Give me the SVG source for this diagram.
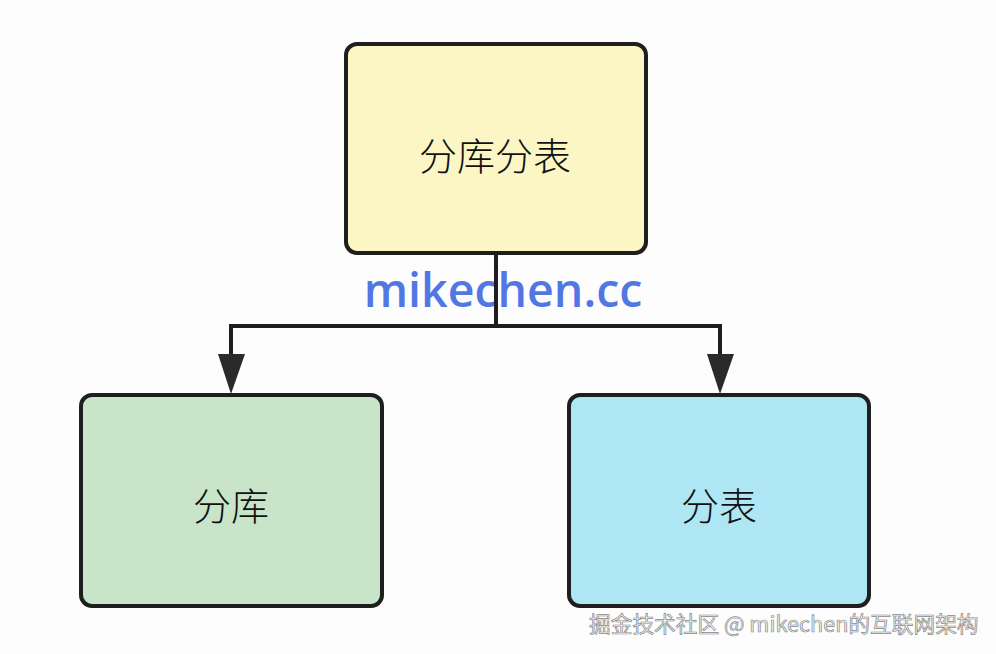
<svg xmlns="http://www.w3.org/2000/svg" width="996" height="654" viewBox="0 0 996 654">
<defs>
<style>
.box{stroke:#1e1e1e;stroke-width:4}
.lbl{font-family:"Noto Sans CJK SC","Noto Sans",sans-serif;font-weight:300;font-size:38px;fill:#111;text-anchor:middle;dominant-baseline:central}
.wire{fill:none;stroke:#1e1e1e;stroke-width:4}
.head{fill:#2a2a2a}
.wm{font-family:"Noto Sans CJK SC","Noto Sans",sans-serif;font-size:21.7px;fill:#f2f2f2;stroke:#8a8a8a;stroke-width:0.7}
</style>
</defs>
<rect width="996" height="654" fill="#fdfdfd"/>
<g id="node-top">
<rect class="box" x="346" y="44" width="300" height="209" rx="11" fill="#fcf6c4"/>
<text class="lbl" x="495" y="153">分库分表</text>
</g>
<g id="node-left">
<rect class="box" x="81" y="395" width="301" height="211" rx="11" fill="#c8e5c9"/>
<text class="lbl" x="231" y="503">分库</text>
</g>
<g id="node-right">
<rect class="box" x="569" y="395" width="300" height="211" rx="11" fill="#afe6f4"/>
<text class="lbl" x="719" y="503">分表</text>
</g>
<text x="503" y="307" font-family="Open Sans,sans-serif" font-weight="600" font-size="46.5" fill="#5277e3" text-anchor="middle">mikechen.cc</text>
<g id="connectors">
<path class="wire" d="M496 255 V326 M231 326 H720 M231 324 V360 M720 324 V360"/>
<polygon class="head" points="218,354 245,354 231,394"/>
<polygon class="head" points="707,354 734,354 720,394"/>
</g>
<text class="wm" x="589" y="632">掘金技术社区 @ mikechen的互联网架构</text>
</svg>
